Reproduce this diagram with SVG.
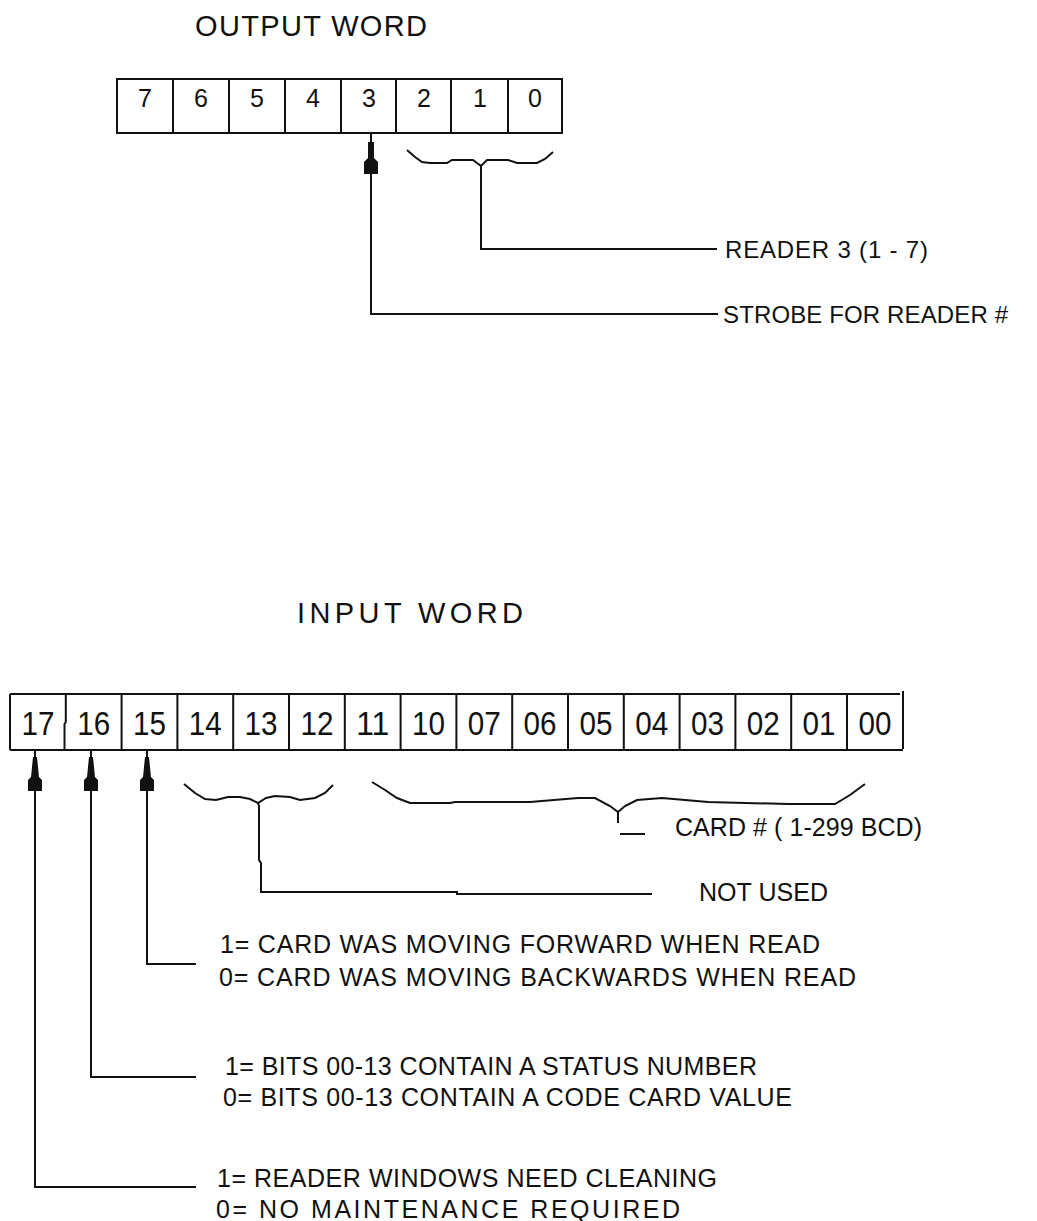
<svg xmlns="http://www.w3.org/2000/svg" width="1037" height="1221" viewBox="0 0 1037 1221">
<style>
.t{font-family:"Liberation Sans",Arial,sans-serif;fill:#111;}
.ttl{font-size:29px;}
.lbl{font-size:25px;}
.sm{font-size:24px;}
.d1{font-size:25px;text-anchor:middle;}
.d2{font-size:34px;text-anchor:middle;}
.ln{fill:none;stroke:#111;stroke-width:2;}
.ah{fill:#111;stroke:none;}
</style>
<rect width="1037" height="1221" fill="#fff"/>
<g id="output-word">
<text class="t ttl" x="195" y="36" textLength="232" lengthAdjust="spacing">OUTPUT WORD</text>
<rect class="ln" x="117" y="79" width="445" height="54"/>
<path class="ln" d="M173,79V133M229,79V133M285,79V133M341,79V133M396,79V133M451,79V133M508,79V133"/>
<text class="t d1" x="145" y="107">7</text>
<text class="t d1" x="201" y="107">6</text>
<text class="t d1" x="257" y="107">5</text>
<text class="t d1" x="313" y="107">4</text>
<text class="t d1" x="369" y="107">3</text>
<text class="t d1" x="424" y="107">2</text>
<text class="t d1" x="480" y="107">1</text>
<text class="t d1" x="535" y="107">0</text>
</g>
<g id="input-word">
<text class="t ttl" x="297" y="623" textLength="226" lengthAdjust="spacing">INPUT WORD</text>
<path class="ln" d="M10,694H900M10,750H903M10,694V750M903,691V749"/>
<path class="ln" d="M65.8,694V722L64.5,724V750M121.6,694V750M177.4,694V750M233.2,694V750M289,694V750M344.8,694V750M400.6,694V750M456.4,694V750M512.2,694V750M568,694V750M623.8,694V750M679.6,694V750M735.4,694V750M791.2,694V750M847,694V750"/>
<g class="t d2">
<text x="37.9" y="735" textLength="33" lengthAdjust="spacingAndGlyphs">17</text>
<text x="93.7" y="735" textLength="33" lengthAdjust="spacingAndGlyphs">16</text>
<text x="149.5" y="735" textLength="33" lengthAdjust="spacingAndGlyphs">15</text>
<text x="205.3" y="735" textLength="33" lengthAdjust="spacingAndGlyphs">14</text>
<text x="261.1" y="735" textLength="33" lengthAdjust="spacingAndGlyphs">13</text>
<text x="316.9" y="735" textLength="33" lengthAdjust="spacingAndGlyphs">12</text>
<text x="372.7" y="735" textLength="33" lengthAdjust="spacingAndGlyphs">11</text>
<text x="428.5" y="735" textLength="33" lengthAdjust="spacingAndGlyphs">10</text>
<text x="484.3" y="735" textLength="33" lengthAdjust="spacingAndGlyphs">07</text>
<text x="540.1" y="735" textLength="33" lengthAdjust="spacingAndGlyphs">06</text>
<text x="595.9" y="735" textLength="33" lengthAdjust="spacingAndGlyphs">05</text>
<text x="651.7" y="735" textLength="33" lengthAdjust="spacingAndGlyphs">04</text>
<text x="707.5" y="735" textLength="33" lengthAdjust="spacingAndGlyphs">03</text>
<text x="763.3" y="735" textLength="33" lengthAdjust="spacingAndGlyphs">02</text>
<text x="819.1" y="735" textLength="33" lengthAdjust="spacingAndGlyphs">01</text>
<text x="874.9" y="735" textLength="33" lengthAdjust="spacingAndGlyphs">00</text>
</g>
</g>
<g id="labels">
<text class="t sm" x="725" y="258" textLength="203" lengthAdjust="spacing">READER 3 (1 - 7)</text>
<text class="t sm" x="723" y="323" textLength="285" lengthAdjust="spacing">STROBE FOR READER #</text>
<text class="t lbl" x="675" y="836" textLength="247" lengthAdjust="spacing">CARD # ( 1-299 BCD)</text>
<text class="t lbl" x="699" y="901" textLength="129" lengthAdjust="spacing">NOT USED</text>
<text class="t lbl" x="220" y="953" textLength="600" lengthAdjust="spacing">1= CARD WAS MOVING FORWARD WHEN READ</text>
<text class="t lbl" x="219" y="986" textLength="637" lengthAdjust="spacing">0= CARD WAS MOVING BACKWARDS WHEN READ</text>
<text class="t lbl" x="225" y="1075" textLength="532" lengthAdjust="spacing">1= BITS 00-13 CONTAIN A STATUS NUMBER</text>
<text class="t lbl" x="223" y="1106" textLength="569" lengthAdjust="spacing">0= BITS 00-13 CONTAIN A CODE CARD VALUE</text>
<text class="t lbl" x="217" y="1187" textLength="500" lengthAdjust="spacing">1= READER WINDOWS NEED CLEANING</text>
<text class="t lbl" x="216" y="1218" textLength="464" lengthAdjust="spacing">0= NO MAINTENANCE REQUIRED</text>
</g>
<g id="connectors">
<path class="ln" d="M407,150L415,157L422,162L430,163L447,163L452,160L473,160L481,166L487,160L508,160L517,163L537,163L545,159L553,152"/>
<path class="ln" d="M481,166V249H717"/>
<polygon class="ah" points="370,133 372,133 372,142 374,142 374,158 378,162 378,174 364,174 364,162 368,158 368,142 370,142"/>
<path class="ln" d="M371,174V314H718"/>
<path class="ln" d="M184,784L195,793L205,799L216,800L228,797L240,797L250,799L258,803L266,798L275,796L290,797L300,800L315,798L325,793L333,785"/>
<path class="ln" d="M258,803L259,806V860L261,863V892H457V894H652"/>
<path class="ln" d="M372,782L385,790L397,798L410,803L450,803L455,802L530,802L578,798L595,798L610,806L618,812L625,806L637,800L662,798L708,802L788,804L835,804L850,795L865,784"/>
<path class="ln" d="M618,812V823M620,834H645"/>
<polygon class="ah" points="146,750 148,750 148,757 149,757 151,777 154,780 154,791 140,791 140,780 143,777 145,757 146,757"/>
<path class="ln" d="M147,791V964H196"/>
<polygon class="ah" points="90,750 92,750 92,757 93,757 95,777 98,780 98,791 84,791 84,780 87,777 89,757 90,757"/>
<path class="ln" d="M91,791V1077H196"/>
<polygon class="ah" points="34,750 36,750 36,757 37,757 39,777 42,780 42,791 28,791 28,780 31,777 33,757 34,757"/>
<path class="ln" d="M35,791V1187H196"/>
</g>
</svg>
